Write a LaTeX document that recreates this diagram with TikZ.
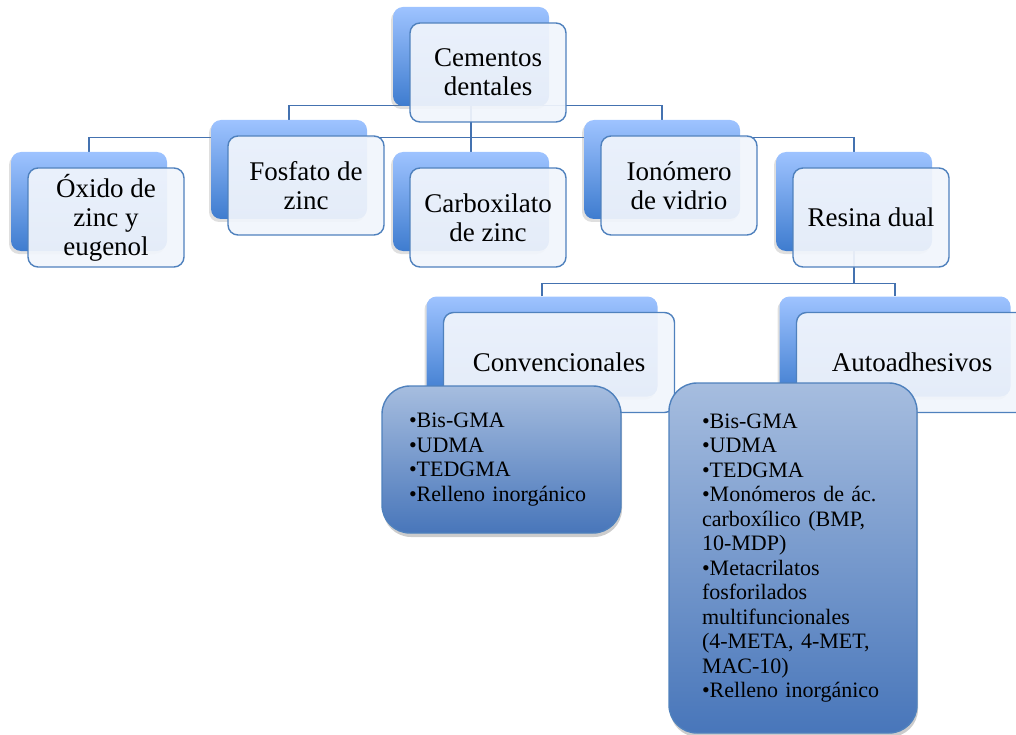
\documentclass[tikz,border=0pt]{standalone}
\usepackage{fontspec}
\setmainfont{Liberation Serif}
\usetikzlibrary{positioning,shadows,backgrounds}

\definecolor{backtop}{RGB}{158,195,255}
\definecolor{backbottom}{RGB}{62,124,207}
\definecolor{frontfill}{RGB}{241,245,252}
\definecolor{listtop}{RGB}{166,189,223}
\definecolor{listbottom}{RGB}{72,118,186}
\definecolor{edgeblue}{RGB}{79,129,189}
\definecolor{linkblue}{RGB}{68,114,176}

\begin{document}
\begin{tikzpicture}[
    x=1pt, y=-1pt,
    back/.style={
        rounded corners=10pt,
        minimum width=156pt,
        minimum height=99pt,
        top color=backtop,
        bottom color=backbottom,
        drop shadow={shadow xshift=-2pt, shadow yshift=-3pt, opacity=.25}
    },
    front/.style={
        draw=edgeblue,
        rounded corners=10pt,
        minimum width=156pt,
        minimum height=99pt,
        fill=frontfill,
        fill opacity=.93,
        text opacity=1,
        align=center,
        line width=1.4pt,
        font=\fontsize{27}{29}\selectfont
    },
    wide/.style={
        minimum width=231pt,
        minimum height=100pt
    },
    listbox/.style={
        draw=edgeblue,
        rounded corners=28pt,
        top color=listtop,
        bottom color=listbottom,
        align=left,
        line width=1.4pt,
        inner ysep=0pt,
        font=\fontsize{22}{24.5}\selectfont,
        drop shadow={shadow xshift=1pt, shadow yshift=-4pt, opacity=.4}
    },
    link/.style={
        draw=linkblue,
        line width=1.4pt
    }
]
\useasboundingbox (0,0) rectangle (1016,735);

% root
\node[back] (cementos-b) at (471,56.5) {};
\node[front] (cementos) at ([shift={(17,16)}]cementos-b) {Cementos\\dentales};

% first level
\node[back] (oxido-b) at (89,201.5) {};
\node[front] (oxido) at ([shift={(17,16)}]oxido-b) {Óxido de\\zinc y\\eugenol};

\node[back] (fosfato-b) at (289,169.5) {};
\node[front] (fosfato) at ([shift={(17,16)}]fosfato-b) {Fosfato de\\zinc};

\node[back] (carbox-b) at (471,201.5) {};
\node[front] (carbox) at ([shift={(17,16)}]carbox-b) {Carboxilato\\de zinc};

\node[back] (ionomero-b) at (662,169.5) {};
\node[front] (ionomero) at ([shift={(17,16)}]ionomero-b) {Ionómero\\de vidrio};

\node[back] (resina-b) at (854,201.5) {};
\node[front] (resina) at ([shift={(17,16)}]resina-b) {Resina dual};

% second level
\node[back, wide] (conv-b) at (542,346.5) {};
\node[front, wide] (conv) at ([shift={(17,16)}]conv-b) {Convencionales};

\node[back, wide] (auto-b) at (895,346.5) {};
\node[front, wide] (auto) at ([shift={(17,16)}]auto-b) {Autoadhesivos};

% lists
\node[listbox, minimum width=239pt, minimum height=147pt,
    inner xsep=27pt, text width=185pt] (conv-list) at (501.5,459.5) {
    •Bis-GMA\\
    •UDMA\\
    •TEDGMA\\
    •Relleno inorgánico
};

\node[listbox, minimum width=248pt, minimum height=350pt,
    inner xsep=33pt, text width=182pt] (auto-list) at (793,558) {
    •Bis-GMA\\
    •UDMA\\
    •TEDGMA\\
    •Monómeros de ác.\\
    carboxílico (BMP,\\
    10-MDP)\\
    •Metacrilatos\\
    fosforilados\\
    multifuncionales\\
    (4-META, 4-MET,\\
    MAC-10)\\
    •Relleno inorgánico
};

% connectors
\begin{scope}[on background layer]
\draw[link] (cementos-b.south) -- (carbox-b.north);
\draw[link] (fosfato-b.north) -- ++(0,-14) -| (ionomero-b.north);
\draw[link] (oxido-b.north) -- ++(0,-14) -| (resina-b.north);
\draw[link] (resina-b.south) -- ++(0,32) coordinate (split);
\draw[link] (conv-b.north) |- (split) -| (auto-b.north);
\end{scope}

\end{tikzpicture}
\end{document}
